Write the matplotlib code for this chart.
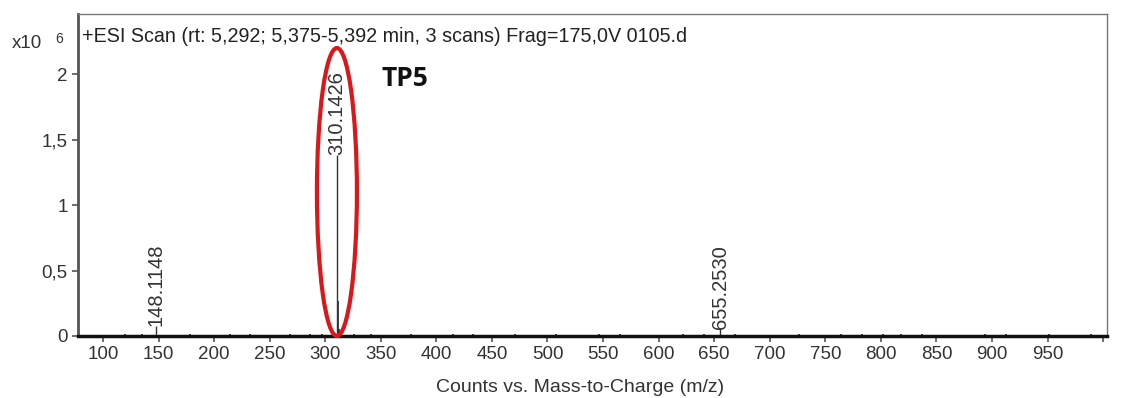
import matplotlib.pyplot as plt
from matplotlib.patches import Ellipse

plt.rcParams['font.family'] = ['Liberation Sans', 'DejaVu Sans']

# labelled peaks (m/z, counts in units of 1e6)
peak_mz = [148.1148, 310.1426, 655.2530]
peak_int = [0.08, 1.38, 0.05]
peak_labels = ['148.1148', '310.1426', '655.2530']

# isotope / minor peaks and baseline noise
minor_mz = [311.1460, 312.15, 120, 135, 162, 178, 195, 214, 232, 251, 268, 286, 297,
            326, 341, 358, 377, 396, 415, 433, 452, 471, 489, 508, 527, 546, 565,
            584, 603, 622, 641, 669, 688, 707, 726, 745, 764, 783, 802, 818, 837,
            856, 875, 894, 913, 932, 951, 970, 989]
minor_int = [0.27, 0.05, 0.012, 0.015, 0.010, 0.014, 0.011, 0.016, 0.012, 0.010, 0.013,
             0.015, 0.018, 0.014, 0.012, 0.011, 0.013, 0.010, 0.012, 0.014, 0.011,
             0.013, 0.010, 0.012, 0.011, 0.013, 0.012, 0.010, 0.011, 0.014, 0.012,
             0.013, 0.011, 0.010, 0.012, 0.011, 0.013, 0.012, 0.014, 0.018, 0.012,
             0.011, 0.010, 0.012, 0.013, 0.011, 0.014, 0.010, 0.012]

xticks = list(range(100, 1001, 50))
xtick_labels = [str(t) if t < 1000 else '' for t in xticks]
yticks = [0, 0.5, 1, 1.5, 2]
ytick_labels = ['0', '0,5', '1', '1,5', '2']

fig = plt.figure(figsize=(11.21, 3.98), dpi=100)
ax = fig.add_axes([78 / 1121, 1 - 336 / 398, (1107 - 78) / 1121, (336 - 14) / 398])

ax.vlines(minor_mz, 0, minor_int, color='#222222', lw=1.2)
ax.vlines(peak_mz, 0, peak_int, color='#333333', lw=1.0)

for mz, h, lab in zip(peak_mz, peak_int, peak_labels):
    ax.text(mz, h, lab, rotation=90, ha='center', va='bottom',
            fontsize=14.5, color='#333333')

ax.set_xlim(77.5, 1003.5)
ax.set_ylim(0, 2.46)
ax.set_xticks(xticks)
ax.set_xticklabels(xtick_labels)
ax.set_yticks(yticks)
ax.set_yticklabels(ytick_labels)
ax.tick_params(axis='both', direction='out', length=4, width=1.2,
               colors='#555555', labelcolor='#333333', labelsize=13.5)

for side in ['top', 'right']:
    ax.spines[side].set_color('#777777')
    ax.spines[side].set_linewidth(1.0)
ax.spines['left'].set_color('#555555')
ax.spines['left'].set_linewidth(2.0)
ax.spines['bottom'].set_color('#111111')
ax.spines['bottom'].set_linewidth(2.5)

# highlighted TP5 peak
ax.add_patch(Ellipse((310.5, 1.1), 36, 2.2, fill=False, edgecolor='#d7191c',
                     lw=3, clip_on=False, zorder=5))
ax.text(351, 1.97, 'TP5', fontsize=19, fontweight='bold', color='#111111',
        family='Open Sans', ha='left', va='center')

ax.text(0.004, 0.929, '+ESI Scan (rt: 5,292; 5,375-5,392 min, 3 scans) Frag=175,0V 0105.d',
        transform=ax.transAxes, fontsize=14.2, color='#222222', ha='left', va='center')

fig.text(12 / 1121, 1 - 44 / 398, 'x10', fontsize=13.5, color='#333333', va='center')
fig.text(55 / 1121, 1 - 39 / 398, '6', fontsize=10, color='#333333', va='center')

ax.text(529, -0.39, 'Counts vs. Mass-to-Charge (m/z)', fontsize=14, color='#333333',
        ha='center', va='center', transform=ax.transData, clip_on=False)

fig.savefig('out.png', dpi=100)
